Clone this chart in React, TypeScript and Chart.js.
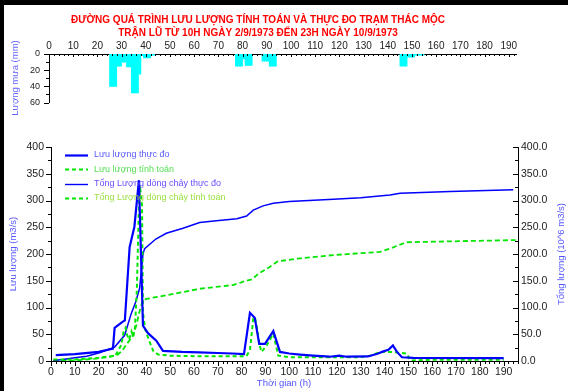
import React, { useEffect, useRef } from 'react';
import { Chart, registerables } from 'chart.js';
Chart.register(...registerables);

const FONT = "'Liberation Sans', Arial, Helvetica, sans-serif";

const TITLE_1 = 'ĐƯỜNG QUÁ TRÌNH LƯU LƯỢNG TÍNH TOÁN VÀ THỰC ĐO TRẠM THÁC MỘC';
const TITLE_2 = 'TRẬN LŨ TỪ 10H NGÀY 2/9/1973 ĐẾN 23H NGÀY 10/9/1973';

const seriesNames = [
  'Lưu lượng thực đo',
  'Lưu lượng tính toán',
  'Tổng Lượng dòng chảy thực đo',
  'Tổng Lượng dòng chảy tính toán',
];
const rainAxisTitle = 'Lượng mưa (mm)';
const flowAxisTitle = 'Lưu lượng (m3/s)';
const volAxisTitle = 'Tổng lượng (10^6 m3/s)';
const timeAxisTitle = 'Thời gian (h)';

// tick labels
const hourTicks = [0, 10, 20, 30, 40, 50, 60, 70, 80, 90, 100, 110, 120, 130, 140, 150, 160, 170, 180, 190];
const flowTicks = [0, 50, 100, 150, 200, 250, 300, 350, 400];
const rainTicks = [0, 20, 40, 60];

// rainfall (mm) per hour starting at rainHour
const rainHour = [25, 26, 27, 28, 29, 30, 31, 32, 33, 34, 35, 36, 37, 38, 39, 40, 41, 42, 43,
  77, 78, 79, 80, 81, 82, 83, 88, 89, 90, 91, 92, 93,
  145, 146, 147, 148, 149, 150, 151, 152, 153, 154];
const rainMm = [40, 40, 40, 15, 15, 10, 10, 16, 16, 48, 48, 48, 25, 2, 5, 5, 5, 1.5, 1.5,
  15, 15, 15, 6, 14, 14, 14, 9, 9, 9, 15, 15, 15,
  15, 15, 15, 4, 4, 4, 1.5, 1.5, 1.5, 1.5];

// observed discharge (m3/s)
const qObsT = [2, 10, 20, 26, 26.7, 30, 31, 33, 35, 36.9, 38.6, 40.7, 44.2, 47, 55, 62, 70, 76, 81, 83.5, 85.5, 87.4, 89.8, 93.3, 96.1, 100, 104.5, 110, 117, 121, 124, 133, 137, 139.5, 141.6, 143.5, 145.2, 147.3, 152, 190];
const qObs = [11, 13, 17, 23, 62, 73, 76, 213, 251, 338, 66, 52, 38, 19, 17, 16, 15, 14, 13, 90, 81, 32, 32, 56, 17, 14, 12, 10, 8, 10, 8, 8.5, 13.5, 18, 21, 29, 17, 7, 6, 5.5];

// computed discharge (m3/s)
const qCalT = [1, 10, 20, 27, 29.5, 30.5, 31.3, 32, 32.8, 33.8, 34.5, 35.2, 36, 36.8, 37.3, 38.2, 38.6, 39.5, 41, 43, 45, 50, 60, 70, 82, 83.5, 84.9, 85.6, 86.5, 87.5, 88.4, 90.5, 93.3, 95.4, 100, 110, 120, 130, 134, 138, 143.7, 149.4, 150.8, 160, 190];
const qCal = [3, 3, 6, 10, 30, 55, 62, 48, 40, 55, 45, 60, 130, 270, 328, 290, 90, 60, 40, 18, 12, 10, 9, 9, 9, 20, 79, 82, 60, 30, 17, 29, 51, 10, 7, 7, 7, 7, 10, 16.7, 16.7, 13.7, 1, 2.4, 2.4];

// observed cumulative volume
const volObsT = [1, 5, 10, 15, 20.4, 26.7, 30.9, 33.7, 35.5, 37.2, 38.6, 39.3, 44, 48.4, 55.4, 62.4, 69.4, 78, 82.1, 84.9, 89, 93.3, 100, 118.5, 130, 142.3, 146.5, 167.6, 194];
const volObs = [1, 3, 6, 9, 15.5, 26, 48, 89, 110, 136, 200, 210, 228, 238.7, 248, 259, 262, 266, 271, 282, 290, 295, 298, 302.4, 305, 310.5, 313.7, 316.7, 320];

// computed cumulative volume
const volCalT = [1, 10, 20, 25, 28, 30, 32, 34, 35, 36, 37, 38, 38.6, 40, 48.4, 62.4, 76.4, 82, 84.5, 87, 91.9, 95, 104.5, 118.5, 138.1, 142.3, 145, 149.4, 160.5, 195];
const volCal = [0.5, 1, 5, 8, 12, 20, 33, 45, 55, 70, 90, 105, 113, 116, 123, 135, 142, 150, 153, 163, 176, 186, 192, 198, 204, 210, 215, 222, 223, 226];

const BLUE = '#0000ff';
const GREEN = '#00e600';
const TICK_COLOR = '#222222';
const TITLE_BLUE = '#5555ff';

const TOP_H = 120;
const MAIN_H = 391 - TOP_H;

type TickSpec = { scaleId: string; min: number; max: number; step: number; major: number; dir: number; majorLen: number; minorLen: number };

function drawTickMarks(chart: any, specs: TickSpec[]) {
  const ctx = chart.ctx;
  const area = chart.chartArea;
  ctx.save();
  ctx.strokeStyle = '#000';
  ctx.lineWidth = 1;
  for (const s of specs) {
    const scale = chart.scales[s.scaleId];
    const horiz = scale.isHorizontal();
    const n = Math.round((s.max - s.min) / s.step);
    for (let i = 0; i <= n; i++) {
      const v = s.min + i * s.step;
      const r = v / s.major;
      const isMajor = Math.abs(r - Math.round(r)) < 1e-6;
      const len = isMajor ? s.majorLen : s.minorLen;
      const p = Math.round(scale.getPixelForValue(v)) + 0.5;
      ctx.beginPath();
      if (horiz) {
        const y0 = scale.position === 'top' ? area.top : area.bottom;
        ctx.moveTo(p, y0);
        ctx.lineTo(p, y0 + s.dir * len);
      } else {
        const x0 = scale.position === 'left' ? area.left : area.right;
        ctx.moveTo(x0, p);
        ctx.lineTo(x0 + s.dir * len, p);
      }
      ctx.stroke();
    }
  }
  ctx.restore();
}

function drawRotated(ctx: CanvasRenderingContext2D, text: string, x: number, y: number, color: string, size: number) {
  ctx.save();
  ctx.translate(x, y);
  ctx.rotate(-Math.PI / 2);
  ctx.fillStyle = color;
  ctx.font = `${size}px ${FONT}`;
  ctx.textAlign = 'center';
  ctx.textBaseline = 'middle';
  ctx.fillText(text, 0, 0);
  ctx.restore();
}

const toPts = (t: number[], v: number[]) => t.map((x, i) => ({ x, y: v[i] }));

export default function App() {
  const topRef = useRef<HTMLCanvasElement>(null);
  const mainRef = useRef<HTMLCanvasElement>(null);

  useEffect(() => {
    const charts: Chart[] = [];
    const tickFont = { family: FONT, size: 10.5 };

    // ---------- rainfall chart ----------
    const rainDecor = {
      id: 'rainDecor',
      afterDraw(chart: any) {
        drawTickMarks(chart, [
          { scaleId: 'x', min: 0, max: 192, step: 2, major: 10, dir: 1, majorLen: 3, minorLen: 2 },
          { scaleId: 'y', min: 0, max: 60, step: 10, major: 20, dir: -1, majorLen: 5, minorLen: 3 },
        ]);
        drawRotated(chart.ctx, rainAxisTitle, 15, 78, '#6666ff', 9.5);
      },
    };
    if (topRef.current) {
      charts.push(new Chart(topRef.current, {
        type: 'bar',
        data: {
          datasets: [{
            label: 'Lượng mưa',
            data: rainHour.map((h, i) => ({ x: h + 0.5, y: rainMm[i] })),
            backgroundColor: '#00ffff',
            borderWidth: 0,
            barPercentage: 1,
            categoryPercentage: 1,
          }],
        },
        options: {
          responsive: false,
          animation: false,
          devicePixelRatio: 1,
          layout: { padding: { top: 0, left: 0, right: 52, bottom: TOP_H - 102.5 } },
          plugins: {
            legend: { display: false },
            tooltip: { enabled: false },
            title: {
              display: true,
              text: [TITLE_1, TITLE_2],
              color: '#ff0000',
              font: { family: FONT, size: 10, weight: 'bold', lineHeight: 1.25 },
              padding: { top: 14, bottom: 2 },
            },
          },
          scales: {
            x: {
              type: 'linear',
              position: 'top',
              min: 0,
              max: 193,
              offset: false,
              afterBuildTicks: (s: any) => { s.ticks = hourTicks.map((v) => ({ value: v })); },
              afterFit: (s: any) => { s.height = 13; },
              grid: { display: false, drawTicks: false, offset: false },
              border: { display: true, color: '#000', width: 1 },
              ticks: { padding: 2, color: TICK_COLOR, font: { family: FONT, size: 10 }, maxRotation: 0, autoSkip: false },
            },
            y: {
              type: 'linear',
              position: 'left',
              reverse: true,
              min: 0,
              max: 60,
              afterBuildTicks: (s: any) => { s.ticks = rainTicks.map((v) => ({ value: v })); },
              afterFit: (s: any) => { s.width = 49; },
              grid: { display: false, drawTicks: true, tickLength: 5 },
              border: { display: true, color: '#000', width: 1 },
              ticks: { padding: 4, color: TICK_COLOR, font: { family: FONT, size: 9 }, autoSkip: false },
            },
          },
        },
        plugins: [rainDecor],
      } as any));
    }

    // ---------- discharge chart ----------
    const legendStyles = [
      { color: BLUE, width: 2.2, dash: [] as number[], text: '#5c5cff' },
      { color: GREEN, width: 2, dash: [4, 3], text: '#55e055' },
      { color: BLUE, width: 1.4, dash: [] as number[], text: '#6a4cff' },
      { color: GREEN, width: 2, dash: [4, 3], text: '#9ce040' },
    ];
    const off = TOP_H;
    const mainDecor = {
      id: 'mainDecor',
      afterDraw(chart: any) {
        const ctx = chart.ctx as CanvasRenderingContext2D;
        drawTickMarks(chart, [
          { scaleId: 'x', min: 0, max: 196, step: 2, major: 10, dir: 1, majorLen: 5, minorLen: 3 },
          { scaleId: 'y', min: 0, max: 400, step: 25, major: 50, dir: -1, majorLen: 5, minorLen: 3 },
          { scaleId: 'y2', min: 0, max: 400, step: 25, major: 50, dir: -1, majorLen: 5, minorLen: 3 },
        ]);
        drawRotated(ctx, flowAxisTitle, 13, 254 - off, TITLE_BLUE, 9.5);
        drawRotated(ctx, volAxisTitle, 561, 254 - off, TITLE_BLUE, 9.5);
        ctx.save();
        ctx.fillStyle = TITLE_BLUE;
        ctx.font = `9.5px ${FONT}`;
        ctx.textAlign = 'center';
        ctx.textBaseline = 'middle';
        ctx.fillText(timeAxisTitle, 284, 383 - off);
        // legend
        seriesNames.forEach((name, i) => {
          const st = legendStyles[i];
          const y = 155 - off + i * 14.3;
          ctx.beginPath();
          ctx.setLineDash(st.dash);
          ctx.strokeStyle = st.color;
          ctx.lineWidth = st.width;
          ctx.moveTo(65, Math.round(y) + 0.5);
          ctx.lineTo(88, Math.round(y) + 0.5);
          ctx.stroke();
          ctx.setLineDash([]);
          ctx.fillStyle = st.text;
          ctx.font = `9px ${FONT}`;
          ctx.textAlign = 'left';
          ctx.fillText(name, 94, y);
        });
        ctx.restore();
      },
    };

    const lineBase = { pointRadius: 0, fill: false, tension: 0, showLine: true };
    if (mainRef.current) {
      charts.push(new Chart(mainRef.current, {
        type: 'line',
        data: {
          datasets: [
            { ...lineBase, label: seriesNames[0], data: toPts(qObsT, qObs), borderColor: BLUE, borderWidth: 2.2, yAxisID: 'y' },
            { ...lineBase, label: seriesNames[1], data: toPts(qCalT, qCal), borderColor: GREEN, borderWidth: 2, borderDash: [4, 3], yAxisID: 'y' },
            { ...lineBase, label: seriesNames[2], data: toPts(volObsT, volObs), borderColor: BLUE, borderWidth: 1.5, yAxisID: 'y2' },
            { ...lineBase, label: seriesNames[3], data: toPts(volCalT, volCal), borderColor: GREEN, borderWidth: 1.8, borderDash: [5, 3], yAxisID: 'y2' },
          ],
        },
        options: {
          responsive: false,
          animation: false,
          devicePixelRatio: 1,
          layout: { padding: { top: 147 - off, left: 0, right: 0, bottom: 0 } },
          plugins: { legend: { display: false }, title: { display: false }, tooltip: { enabled: false } },
          scales: {
            x: {
              type: 'linear',
              position: 'bottom',
              min: 0,
              max: 196,
              afterBuildTicks: (s: any) => { s.ticks = hourTicks.map((v) => ({ value: v })); },
              afterFit: (s: any) => { s.height = 30; },
              grid: { display: false, drawTicks: true, tickLength: 5 },
              border: { display: true, color: '#000', width: 1 },
              ticks: { padding: 0, color: TICK_COLOR, font: tickFont, maxRotation: 0, autoSkip: false },
            },
            y: {
              type: 'linear',
              position: 'left',
              min: 0,
              max: 400,
              afterBuildTicks: (s: any) => { s.ticks = flowTicks.map((v) => ({ value: v })); },
              afterFit: (s: any) => { s.width = 51; },
              grid: { display: false, drawTicks: true, tickLength: 5 },
              border: { display: true, color: '#000', width: 1 },
              ticks: { padding: 2, color: TICK_COLOR, font: tickFont, autoSkip: false },
            },
            y2: {
              type: 'linear',
              position: 'right',
              min: 0,
              max: 400,
              afterBuildTicks: (s: any) => { s.ticks = flowTicks.map((v) => ({ value: v })); },
              afterFit: (s: any) => { s.width = 50; },
              grid: { display: false, drawTicks: false },
              border: { display: true, color: '#000', width: 1 },
              ticks: { padding: 3, color: TICK_COLOR, font: tickFont, autoSkip: false, callback: (v: any) => Number(v).toFixed(1) },
            },
          },
        },
        plugins: [mainDecor],
      } as any));
    }

    return () => { charts.forEach((c) => c.destroy()); };
  }, []);

  return (
    <div style={{ position: 'absolute', left: 0, top: 0, width: 568, height: 391, background: '#ffffff', overflow: 'hidden' }}>
      <canvas ref={topRef} width={568} height={TOP_H} style={{ position: 'absolute', left: 0, top: 0, width: 568, height: TOP_H }} />
      <canvas ref={mainRef} width={568} height={MAIN_H} style={{ position: 'absolute', left: 0, top: TOP_H, width: 568, height: MAIN_H }} />
      <div style={{ position: 'absolute', left: 0, top: 0, width: 568, height: 5, background: '#000' }} />
      <div style={{ position: 'absolute', left: 0, top: 0, width: 4, height: 391, background: '#000' }} />
    </div>
  );
}
